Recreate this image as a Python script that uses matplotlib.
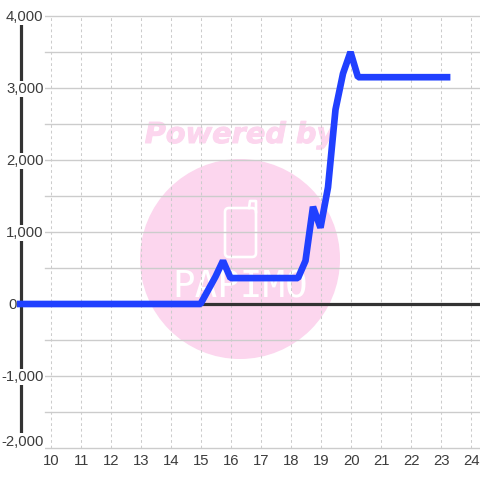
import matplotlib
matplotlib.use("Agg")
import matplotlib.pyplot as plt
import matplotlib.patheffects as pe
from matplotlib.patches import Circle, FancyBboxPatch

x_ticks = list(range(10, 25))
y_ticks = [-2000, -1000, 0, 1000, 2000, 3000, 4000]
y_minor = [-1500, -500, 500, 1500, 2500, 3500]
y_labels = ["-2,000", "-1,000", "0", "1,000", "2,000", "3,000", "4,000"]
hours = [8.88, 15, 15.5, 15.75, 16, 18.25, 18.5, 18.75, 19, 19.25, 19.5, 19.75, 20, 20.25, 23.33]
values = [0, 0, 380, 600, 360, 360, 600, 1350, 1060, 1620, 2700, 3200, 3500, 3150, 3150]

plt.rcParams["font.family"] = ["Liberation Sans", "DejaVu Sans"]
fig = plt.figure(figsize=(4.8, 4.8), dpi=100, facecolor="white")
ax = fig.add_axes([0, 0, 1, 1])
ax.set_xlim(10 - 50.5 / 30, 10 + (480 - 50.5) / 30)
ax.set_ylim(4000 - 464 / 0.072, 4000 + 16 / 0.072)
ax.axis("off")

# watermark in pixel coordinates
ov = fig.add_axes([0, 0, 1, 1], zorder=-1)
ov.set_xlim(0, 480); ov.set_ylim(480, 0); ov.axis("off")
pink = "#fcd6ee"
ov.add_patch(Circle((240, 259), 100, fc=pink, ec="none"))
ov.text(240, 135, "Powered by", color=pink, fontsize=20.7, fontweight="bold", style="italic",
        family="DejaVu Sans", ha="center", va="center",
        path_effects=[pe.withStroke(linewidth=0.7, foreground=pink)])
ov.add_patch(FancyBboxPatch((225, 208), 31, 49, boxstyle="round,pad=0,rounding_size=4",
                            fc="none", ec="white", lw=1.9))
ov.plot([249, 250, 256, 256], [208, 201, 201, 212], color="white", lw=1.9)
ov.text(240, 288, "PAPIMO", color="white", fontsize=27, family="DejaVu Sans Mono",
        ha="center", va="center")
ax.patch.set_alpha(0)

grey = "#cccccc"
ink = "#3c3c3c"
x0 = ax.get_xlim()[0]
for t in x_ticks:
    ax.plot([t, t], [-2000, 4000], color=grey, lw=0.75, ls=(0, (2.7, 2.7)), zorder=1)
left = x0 + 45 / 30
right = ax.get_xlim()[1]
for v in y_ticks + y_minor:
    ax.plot([left, right], [v, v], color=grey, lw=1.0, zorder=1)
axis_x = x0 + 20.5 / 30
ax.plot([axis_x, axis_x], [-2000, 4000], color="#333333", lw=2.3, solid_capstyle="butt", zorder=2)
ax.plot([axis_x, right], [0, 0], color="#333333", lw=2.3, solid_capstyle="butt", zorder=2)

for v, s in zip(y_ticks, y_labels):
    if v == 0:
        ax.text(x0 + 16.5 / 30, v - 14, s, ha="right", va="center", fontsize=10.7, color=ink, zorder=3)
        continue
    yy = v + 90 if v == -2000 else v - 14
    ax.text(x0 + 43.5 / 30, yy, s, ha="right", va="center", fontsize=10.7, color=ink, zorder=3,
            bbox=dict(fc="white", ec="none", pad=1.0))
for t in x_ticks:
    ax.text(t + 1 / 30, -2181, str(t), ha="center", va="center", fontsize=10.7, color=ink, zorder=3)

ax.plot(hours, values, color="#2040ff", lw=4.8, solid_joinstyle="bevel",
        solid_capstyle="butt", zorder=4)
fig.savefig("out.png", dpi=100)
